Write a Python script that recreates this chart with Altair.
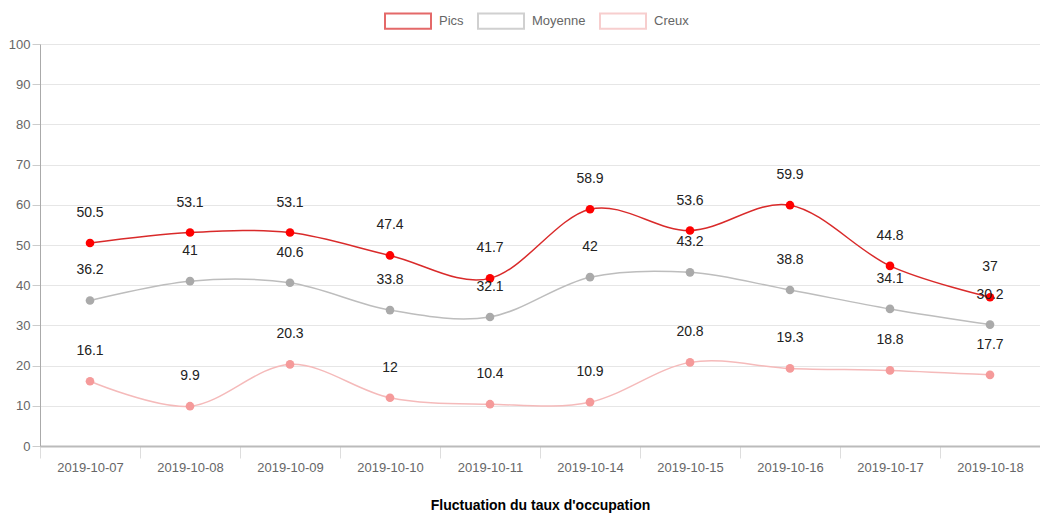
import altair as alt
import pandas as pd

dates = ["2019-10-07", "2019-10-08", "2019-10-09", "2019-10-10", "2019-10-11",
         "2019-10-14", "2019-10-15", "2019-10-16", "2019-10-17", "2019-10-18"]
pics = [50.5, 53.1, 53.1, 47.4, 41.7, 58.9, 53.6, 59.9, 44.8, 37]
moyenne = [36.2, 41, 40.6, 33.8, 32.1, 42, 43.2, 38.8, 34.1, 30.2]
creux = [16.1, 9.9, 20.3, 12, 10.4, 10.9, 20.8, 19.3, 18.8, 17.7]

series = ["Pics", "Moyenne", "Creux"]
line_colors = ["#d92a2a", "#bdbdbd", "#f5baba"]
point_colors = ["#ff0000", "#aaaaaa", "#f59a9a"]

rows = []
for name, vals in zip(series, [pics, moyenne, creux]):
    for d, v in zip(dates, vals):
        rows.append({"date": d, "serie": name, "val": v})
df = pd.DataFrame(rows)

FONT = "Liberation Sans"

x = alt.X("date:N", sort=dates, scale=alt.Scale(paddingInner=0, paddingOuter=0),
          axis=alt.Axis(title="Fluctuation du taux d'occupation", labelAngle=0,
                        tickBand="extent", tickSize=12, labelPadding=3,
                        titlePadding=24, titleFontSize=14, titleFontWeight="bold",
                        titleColor="#000", domainColor="#bbbbbb", domainWidth=2,
                        tickColor="#dddddd", gridColor="#e6e6e6"))
y = alt.Y("val:Q", scale=alt.Scale(domain=[0, 100], nice=False),
          axis=alt.Axis(title=None, values=list(range(0, 101, 10)), tickSize=8,
                        labelPadding=2, domainColor="#aaaaaa", tickColor="#cccccc",
                        gridColor="#e6e6e6"))

color = alt.Color("serie:N", scale=alt.Scale(domain=series, range=line_colors),
                  legend=alt.Legend(title=None, orient="none", legendX=344, legendY=-47,
                                    direction="horizontal",
                                    symbolType="M-1,-0.33L1,-0.33L1,0.33L-1,0.33Z",
                                    symbolSize=2116, symbolFillColor="white",
                                    symbolStrokeWidth=2, symbolOpacity=0.7,
                                    labelOffset=7, columnPadding=10,
                                    labelFontSize=13, labelColor="#666", labelFont=FONT,
                                    padding=0))

lines = alt.Chart(df).mark_line(interpolate="cardinal", strokeWidth=1.5).encode(
    x=x, y=y, color=color)

points = alt.Chart(df).mark_point(filled=True, size=75, opacity=1).encode(
    x=x, y=y,
    color=alt.Color("serie:N", scale=alt.Scale(domain=series, range=point_colors), legend=None))

labels = alt.Chart(df).mark_text(dy=-30, fontSize=14, color="#222", font=FONT).encode(
    x=x, y=y, text=alt.Text("val:Q"))

chart = alt.layer(lines, points, labels).resolve_scale(color="independent").properties(
    width=1000, height=402,
    autosize=alt.AutoSizeParams(type="none"),
    padding={"left": 32, "top": 36, "right": 0, "bottom": 67},
).configure_axis(
    labelFont=FONT, labelFontSize=13, labelColor="#666", titleFont=FONT,
).configure_view(stroke=None)

chart.save("out.html", embed_options={"renderer": "svg", "actions": False})
